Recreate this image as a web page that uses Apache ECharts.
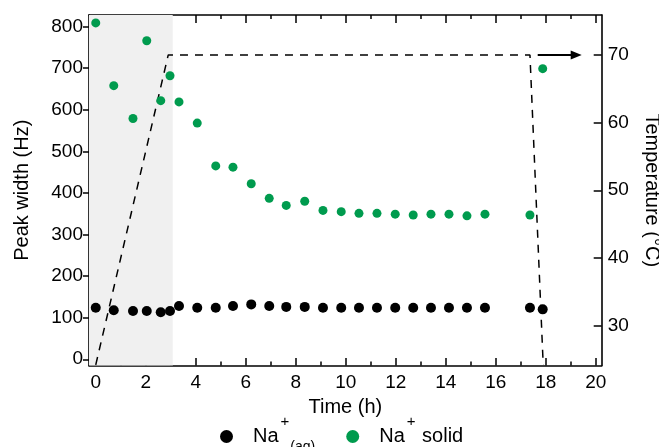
<!DOCTYPE html>
<html><head><meta charset="utf-8">
<script src="https://cdn.jsdelivr.net/npm/echarts@6/dist/echarts.min.js"></script>
<style>html,body{margin:0;padding:0;background:#fff}#c{width:659px;height:447px}</style>
</head><body><div id="c"></div>
<script>
// ---- data ----
const times  = [0,0.72,1.49,2.04,2.6,2.97,3.33,4.06,4.8,5.49,6.22,6.94,7.62,8.36,9.09,9.82,10.53,11.25,11.98,12.7,13.41,14.13,14.85,15.57,17.37,17.88];
const naSolid = [809,658,579,766,622,682,619,568,465,462,422,387,370,380,358,355,351,351,349,347,349,349,345,349,347,699];
const naAq    = [124,118,116,116,113,116,128,124,124,128,132,128,126,126,124,124,124,124,124,124,124,124,124,124,124,120];
const tempTime  = [0,2.9,17.37,17.9];
const tempValue = [24.2,70,70,24.2];
const arrowTime = [17.68,19.22];
const arrowTemp = 70;
const heatStart = -0.27, heatEnd = 3.08;
const xMajor = [0,2,4,6,8,10,12,14,16,18,20];
const xMinor = [1,3,5,7,9,11,13,15,17,19];
const yTicks = [0,100,200,300,400,500,600,700,800];
const tTicks = [30,40,50,60,70];

const FONT = 'Liberation Sans';
const X_MIN = -0.27, X_MAX = 20.24;
const black = '#000';
const green = '#009b4e';

function xAx(pos, vals, len, showLine, showLabel, extra) {
  return Object.assign({
    type: 'value', position: pos, min: X_MIN, max: X_MAX,
    axisLine: {show: showLine, onZero: false, lineStyle: {color: black, width: 1.6}},
    axisTick: {show: true, inside: true, length: len, customValues: vals, lineStyle: {color: black, width: 1.5}},
    axisLabel: {show: showLabel, customValues: vals, fontSize: 19, margin: 8, color: black, fontFamily: FONT},
    splitLine: {show: false}
  }, extra || {});
}

const option = {
  animation: false,
  backgroundColor: '#fff',
  grid: {left: 89, right: 57.3, top: 15, bottom: 81.5, containLabel: false, outerBoundsMode: 'none'},
  xAxis: [
    xAx('bottom', xMajor, 7.5, true, true, {name: 'Time (h)', nameLocation: 'middle', nameGap: 31,
      nameTextStyle: {fontSize: 20, color: black, fontFamily: FONT}}),
    xAx('bottom', xMinor, 4, false, false),
    xAx('top', xMajor, 8, true, false),
    xAx('top', xMinor, 4, false, false)
  ],
  yAxis: [
    {
      type: 'value', position: 'left', min: -15, max: 828,
      axisLine: {show: true, onZero: false, lineStyle: {color: black, width: 1.6}},
      axisTick: {show: true, inside: false, length: 6, customValues: yTicks, lineStyle: {color: black, width: 1.5}},
      axisLabel: {customValues: yTicks, fontSize: 19, margin: 6, color: black, fontFamily: FONT},
      splitLine: {show: false},
      name: 'Peak width (Hz)', nameLocation: 'middle', nameRotate: 90, nameGap: 57,
      nameTextStyle: {fontSize: 20, color: black, fontFamily: FONT}
    },
    {
      type: 'value', position: 'right', min: 24.1, max: 75.9,
      axisLine: {show: true, onZero: false, lineStyle: {color: black, width: 1.6}},
      axisTick: {show: true, inside: true, length: 8, customValues: tTicks, lineStyle: {color: black, width: 1.5}},
      axisLabel: {customValues: tTicks, fontSize: 19, margin: 6, color: black, fontFamily: FONT},
      splitLine: {show: false},
      name: 'Temperature (°C)', nameLocation: 'middle', nameRotate: -90, nameGap: 40,
      nameTextStyle: {fontSize: 20, color: black, fontFamily: FONT}
    }
  ],
  legend: {
    left: 215, top: 409, icon: 'circle', itemWidth: 13, itemHeight: 13, itemGap: 31,
    data: ['Na+(aq)', 'Na+ solid'],
    itemStyle: {opacity: 1},
    formatter: function (name) {
      return name === 'Na+(aq)' ? '{n|Na}{sup|+}{sub|(aq)}' : '{n|Na}{sup|+}{s| solid}';
    },
    textStyle: {
      color: black, fontFamily: FONT, fontSize: 20,
      rich: {
        n: {fontSize: 20, fontFamily: FONT, color: black, padding: [0, 1, 0, 15]},
        sup: {fontSize: 15, fontFamily: FONT, color: black, padding: [0, 1, 30, 1]},
        sub: {fontSize: 14, fontFamily: FONT, color: black, padding: [22, 0, 0, 0]},
        s: {fontSize: 20, fontFamily: FONT, color: black}
      }
    }
  },
  series: [
    {
      name: 'Temperature', type: 'line', xAxisIndex: 0, yAxisIndex: 1, z: 1,
      data: tempTime.map((t, i) => [t, tempValue[i]]),
      symbol: 'none', silent: true,
      lineStyle: {color: black, width: 1.5, type: [8, 7]},
      markArea: {silent: true, itemStyle: {color: '#f0f0f0'}, data: [[{xAxis: heatStart}, {xAxis: heatEnd}]]},
      markLine: {
        silent: true, symbol: ['none', 'triangle'], symbolSize: [9, 11],
        label: {show: false},
        lineStyle: {color: black, width: 2.2, type: 'solid'},
        data: [[{coord: [arrowTime[0], arrowTemp]}, {coord: [arrowTime[1], arrowTemp]}]]
      }
    },
    {
      name: 'Na+ solid', type: 'scatter', xAxisIndex: 0, yAxisIndex: 0, z: 3,
      data: times.map((t, i) => [t, naSolid[i]]),
      symbol: 'circle', symbolSize: 9, itemStyle: {color: green, opacity: 1}
    },
    {
      name: 'Na+(aq)', type: 'scatter', xAxisIndex: 0, yAxisIndex: 0, z: 3,
      data: times.map((t, i) => [t, naAq[i]]),
      symbol: 'circle', symbolSize: 10, itemStyle: {color: black, opacity: 1}
    }
  ]
};
echarts.init(document.getElementById('c')).setOption(option);
</script></body></html>
